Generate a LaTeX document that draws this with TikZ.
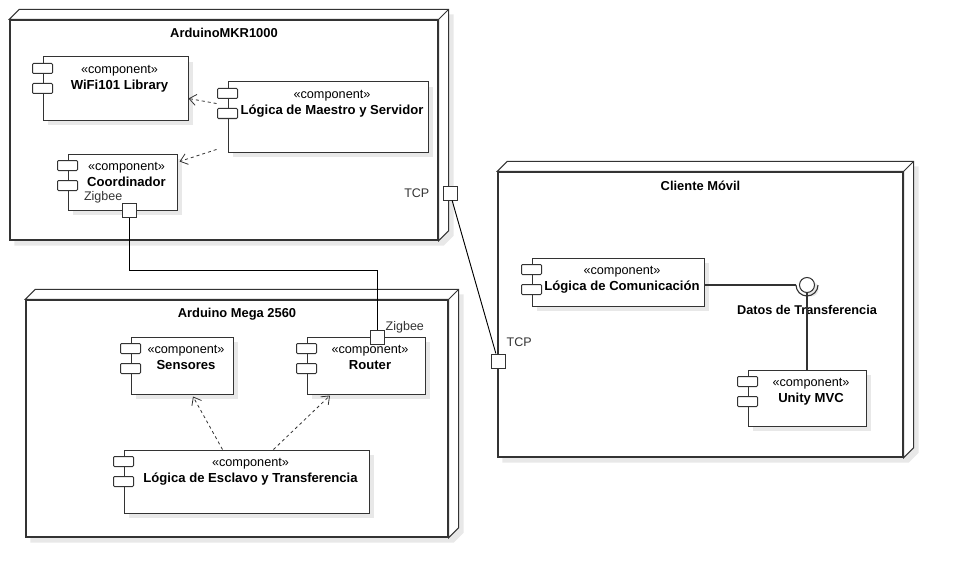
\documentclass[tikz,border=0pt]{standalone}
\usepackage{fontspec}
\setmainfont{Liberation Sans}
\usetikzlibrary{arrows.meta,shadows,backgrounds}

\definecolor{umlline}{HTML}{333333}
\definecolor{umlshade}{HTML}{E8E8E8}

\tikzset{
  device/.style={draw=umlline, fill=white, line width=1.3pt, inner sep=0pt},
  face/.style={draw=umlline, fill=white, line width=1pt},
  devtitle/.style={anchor=north, inner sep=0pt, yshift=-9pt, font=\fontsize{12.9}{15}\selectfont\bfseries},
  comp/.style={draw=umlline, fill=white, line width=1pt, inner sep=0pt,
    drop shadow={shadow xshift=5pt, shadow yshift=-5pt, fill=umlshade, opacity=1}},
  comptext/.style={anchor=north, align=center, inner sep=0pt, xshift=4pt, yshift=-9pt, font=\fontsize{12.7}{16}\selectfont},
  tab/.style={draw=umlline, fill=white, line width=1pt, rounded corners=1pt},
  port/.style={draw=umlline, fill=white, line width=1pt, minimum size=14pt, inner sep=0pt},
  portname/.style={inner sep=0pt, text=umlline, font=\fontsize{12.5}{15}\selectfont},
  ball/.style={circle, draw=umlline, fill=white, line width=1pt, minimum size=15pt, inner sep=0pt,
    drop shadow={shadow xshift=4pt, shadow yshift=-4pt, fill=umlshade, opacity=1}},
  depend/.style={dashed, dash pattern=on 3pt off 3pt, ->, >={Straight Barb[length=7pt,width=11pt]}, umlline, line width=0.8pt},
  wire/.style={black, line width=0.9pt},
  assoc/.style={umlline, line width=1.1pt}
}

\begin{document}
\begin{tikzpicture}[x=1pt, y=-1pt]
  % nodos de despliegue
  \node[device, minimum width=428pt, minimum height=220pt,
    label={[devtitle]north:ArduinoMKR1000}] (mkr) at (224,130) {};
  \node[device, minimum width=422pt, minimum height=237pt,
    label={[devtitle]north:Arduino Mega 2560}] (mega) at (237,418.5) {};
  \node[device, minimum width=405pt, minimum height=285pt,
    label={[devtitle]north:Cliente Móvil}] (cliente) at (700.5,314.5) {};

  \begin{scope}[on background layer]
    \fill[white] (0,0) rectangle (954,578);
    \foreach \n in {mkr,mega,cliente} {
      \fill[umlshade] ([shift={(5,5)}]\n.north west) -- ++(10,-10) -| ([shift={(15,-5)}]\n.south east)
        -- ([shift={(5,5)}]\n.south east) -- ([shift={(5,5)}]\n.south west) -- cycle;
      \filldraw[face] (\n.north west) -- ++(10,-10) -| ([shift={(10,-10)}]\n.south east)
        -- (\n.south east) -- (\n.north east) -- cycle (\n.north east) -- ++(10,-10);
    }
  \end{scope}

  % componentes
  \node[comp, minimum width=145pt, minimum height=63pt,
    label={[comptext]north:{«component»\\\fontsize{13.1}{16}\selectfont\bfseries WiFi101 Library}}] (wifi) at (115.5,88.5) {};
  \node[comp, minimum width=200pt, minimum height=70pt,
    label={[comptext]north:{«component»\\\fontsize{13.1}{16}\selectfont\bfseries Lógica de Maestro y Servidor}}] (maestro) at (328,117) {};
  \node[comp, minimum width=109pt, minimum height=56pt,
    label={[comptext]north:{«component»\\\fontsize{13.1}{16}\selectfont\bfseries Coordinador}}] (coord) at (122.5,182) {};
  \node[comp, minimum width=102pt, minimum height=57pt,
    label={[comptext]north:{«component»\\\fontsize{13.1}{16}\selectfont\bfseries Sensores}}] (sensores) at (182,365.5) {};
  \node[comp, minimum width=118pt, minimum height=57pt,
    label={[comptext]north:{«component»\\\fontsize{13.1}{16}\selectfont\bfseries Router}}] (router) at (366,365.5) {};
  \node[comp, minimum width=245pt, minimum height=63pt,
    label={[comptext]north:{«component»\\\fontsize{13.1}{16}\selectfont\bfseries Lógica de Esclavo y Transferencia}}] (esclavo) at (246.5,481.5) {};
  \node[comp, minimum width=172pt, minimum height=48pt,
    label={[comptext]north:{«component»\\\fontsize{13.1}{16}\selectfont\bfseries Lógica de Comunicación}}] (comm) at (618,282) {};
  \node[comp, minimum width=118pt, minimum height=56pt,
    label={[comptext]north:{«component»\\\fontsize{13.1}{16}\selectfont\bfseries Unity MVC}}] (unity) at (807,398) {};

  \foreach \c in {wifi,maestro,coord,sensores,router,esclavo,comm,unity} {
    \draw[tab] ([shift={(-10,7)}]\c.north west) rectangle ++(20,10);
    \draw[tab] ([shift={(-10,27)}]\c.north west) rectangle ++(20,10);
  }

  % dependencias
  \draw[depend] ([xshift=-11pt,yshift=-22pt]maestro.north west) -- ([yshift=-10pt]wifi.east);
  \draw[depend] ([xshift=-11pt,yshift=3pt]maestro.south west) -- ([xshift=2pt,yshift=-8pt]coord.north east);
  \draw[depend] ([xshift=-24pt]esclavo.north) -- ([xshift=11pt,yshift=-2pt]sensores.south);
  \draw[depend] ([xshift=27pt]esclavo.north) -- ([xshift=-36pt,yshift=-1pt]router.south);

  % puertos
  \node[port, label={[portname, anchor=east, xshift=-13pt]west:TCP}] (tcpMkr) at (450,193) {};
  \node[port, label={[portname, anchor=west, xshift=1pt, yshift=11pt]north east:TCP}] (tcpCli) at (498,361) {};
  \node[port, label={[portname, anchor=east, xshift=1pt, yshift=5pt]north west:Zigbee}] (zigCoord) at (129,210) {};
  \node[port, label={[portname, anchor=west, xshift=1pt, yshift=2pt]north east:Zigbee}] (zigRouter) at (377,337) {};

  \draw[wire] (tcpMkr) -- (tcpCli);
  \draw[wire] (zigCoord.south) -- ++(0,53) -| (zigRouter.north);

  % interfaz
  \node[ball, label={[inner sep=0pt, yshift=-12pt, font=\fontsize{12.7}{15}\selectfont\bfseries]below:Datos de Transferencia}] (ball) at (807,285) {};
  \draw[assoc] ([xshift=-11pt]ball.center) arc[start angle=180, end angle=360, radius=11pt];
  \draw[assoc] (comm.east |- ball.center) -- ([xshift=-11pt]ball.center);
  \draw[assoc] (ball.south) -- (unity.north);
\end{tikzpicture}
\end{document}
